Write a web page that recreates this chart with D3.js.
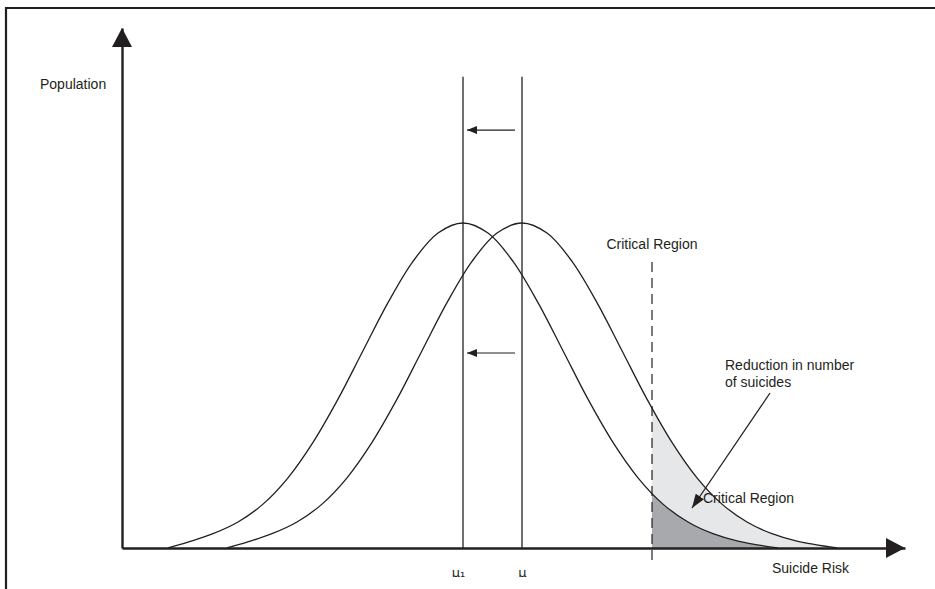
<!DOCTYPE html>
<html>
<head>
<meta charset="utf-8">
<script src="https://cdn.jsdelivr.net/npm/d3@7"></script>
<style>
  body { margin: 0; background: #fff; }
  text { font-family: "Liberation Sans", Arial, sans-serif; fill: #231f20; }
</style>
</head>
<body>
<svg id="chart"></svg>
<script>
// profile of the risk distribution, offsets in sigma units from the mean
var riskOffset = [-2.95, -2.75, -2.5, -2.25, -2, -1.75, -1.5, -1.25, -1, -0.75, -0.5, -0.25,
                  0, 0.25, 0.5, 0.75, 1, 1.25, 1.5, 1.75, 2, 2.25, 2.5, 2.75, 3.15]
var density = [0, 0.018, 0.044, 0.080, 0.135, 0.216, 0.325, 0.458, 0.607, 0.755, 0.882, 0.969,
               1.0, 0.969, 0.882, 0.755, 0.607, 0.458, 0.325, 0.216, 0.135, 0.080, 0.044, 0.021, 0]

var means = [-0.59, 0]              // shifted mean, original mean
var meanLabels = ["μ₁", "μ"]
var criticalRisk = 1.3

var width = 935, height = 589
var ink = "#231f20"

var svg = d3.select("#chart")
    .attr("width", width)
    .attr("height", height)

// frame
svg.append("path")
    .attr("d", "M6,589V8H935")
    .attr("fill", "none")
    .attr("stroke", ink)
    .attr("stroke-width", 2.2)

var x = d3.scaleLinear()
    .domain([-4, 3.83])
    .range([122, 905])

var y = d3.scaleLinear()
    .domain([0, 1.6])
    .range([548, 28])

var line = d3.line()
    .x(d => x(d[0]))
    .y(d => y(d[1]))
    .curve(d3.curveCatmullRom)

var area = d3.area()
    .x(d => x(d[0]))
    .y0(y(0))
    .y1(d => y(d[1]))
    .curve(d3.curveCatmullRom)

function curveFor(m) {
    return riskOffset.map((o, i) => [m + o, density[i]])
}

var defs = svg.append("defs")
defs.append("clipPath").attr("id", "crit")
    .append("rect")
    .attr("x", x(criticalRisk)).attr("y", 0)
    .attr("width", x(3.83) - x(criticalRisk)).attr("height", y(0))
defs.append("clipPath").attr("id", "labels")
    .append("rect")
    .attr("x", -40).attr("y", -20)
    .attr("width", 80).attr("height", 49)

defs.append("marker")
    .attr("id", "head")
    .attr("viewBox", "0 0 10 8")
    .attr("refX", 10).attr("refY", 4)
    .attr("markerWidth", 10).attr("markerHeight", 8)
    .attr("markerUnits", "userSpaceOnUse")
    .attr("orient", "auto")
  .append("path")
    .attr("d", "M0,0L10,4L0,8Z")
    .attr("fill", ink)

defs.append("marker")
    .attr("id", "bighead")
    .attr("viewBox", "0 0 14 10")
    .attr("refX", 14).attr("refY", 5)
    .attr("markerWidth", 14).attr("markerHeight", 10)
    .attr("markerUnits", "userSpaceOnUse")
    .attr("orient", "auto")
  .append("path")
    .attr("d", "M0,0L14,5L0,10Z")
    .attr("fill", ink)

// shaded critical region
var shade = svg.append("g").attr("clip-path", "url(#crit)")
shade.append("path")
    .attr("d", area(curveFor(means[1])))
    .attr("fill", "#e6e7e8")
shade.append("path")
    .attr("d", area(curveFor(means[0])))
    .attr("fill", "#a7a9ac")

// the two distributions
svg.selectAll("path.dist")
  .data(means)
  .join("path")
    .attr("class", "dist")
    .attr("d", m => line(curveFor(m)))
    .attr("fill", "none")
    .attr("stroke", ink)
    .attr("stroke-width", 1.3)

// mean lines
svg.selectAll("line.mean")
  .data(means)
  .join("line")
    .attr("class", "mean")
    .attr("x1", d => x(d)).attr("x2", d => x(d))
    .attr("y1", y(0)).attr("y2", y(1.45))
    .attr("stroke", ink)
    .attr("stroke-width", 1.3)

// shift arrows
svg.selectAll("line.shift")
  .data([1.286, 0.6])
  .join("line")
    .attr("class", "shift")
    .attr("x1", x(-0.07)).attr("x2", x(-0.55))
    .attr("y1", d => y(d)).attr("y2", d => y(d))
    .attr("stroke", ink)
    .attr("stroke-width", 1.2)
    .attr("marker-end", "url(#head)")

// critical line
svg.append("line")
    .attr("x1", x(criticalRisk)).attr("x2", x(criticalRisk))
    .attr("y1", y(0.88)).attr("y2", y(-0.046))
    .attr("stroke", ink)
    .attr("stroke-width", 1.2)
    .attr("stroke-dasharray", "10,6")

// axes
var xAxis = svg.append("g")
    .attr("transform", `translate(0,${y(0)})`)
    .call(d3.axisBottom(x)
        .tickValues(means)
        .tickFormat((d, i) => meanLabels[i])
        .tickSize(0)
        .tickSizeOuter(0))
xAxis.select(".domain").attr("stroke", ink).attr("stroke-width", 2.4)
xAxis.selectAll(".tick")
    .attr("clip-path", "url(#labels)")
xAxis.selectAll(".tick text")
    .style("font-family", "'DejaVu Sans', sans-serif")
    .attr("font-size", 13)
    .attr("fill", ink)
    .attr("y", 29)
    .attr("dy", 0)
    .attr("dx", (d, i) => i == 0 ? -5 : 0)

var yAxis = svg.append("g")
    .attr("transform", `translate(${x(-4)},0)`)
    .call(d3.axisLeft(y).tickValues([]).tickSizeOuter(0))
yAxis.select(".domain").attr("stroke", ink).attr("stroke-width", 2.4)

// axis arrow heads
svg.append("path")
    .attr("d", `M${x(-4)},${y(1.6)}L${x(-4) - 10},${y(1.6) + 19}L${x(-4) + 10},${y(1.6) + 19}Z`)
    .attr("fill", ink)
svg.append("path")
    .attr("d", `M${x(3.83)},${y(0)}L${x(3.83) - 19},${y(0) - 10}L${x(3.83) - 19},${y(0) + 10}Z`)
    .attr("fill", ink)

// annotation arrow
svg.append("line")
    .attr("x1", 770).attr("y1", 393)
    .attr("x2", 692).attr("y2", 508)
    .attr("stroke", ink)
    .attr("stroke-width", 1.3)
    .attr("marker-end", "url(#bighead)")

// texts
var labels = [
    {t: "Population", x: 40, y: 89, a: "start"},
    {t: "Suicide Risk", x: 772, y: 573, a: "start"},
    {t: "Critical Region", x: x(criticalRisk), y: 249, a: "middle"},
    {t: "Reduction in number", x: 725, y: 370, a: "start"},
    {t: "of suicides", x: 725, y: 387, a: "start"},
    {t: "Critical Region", x: 703, y: 503, a: "start"}
]
svg.selectAll("text.lab")
  .data(labels)
  .join("text")
    .attr("class", "lab")
    .attr("x", d => d.x)
    .attr("y", d => d.y)
    .attr("text-anchor", d => d.a)
    .attr("font-size", 14)
    .text(d => d.t)
</script>
</body>
</html>
